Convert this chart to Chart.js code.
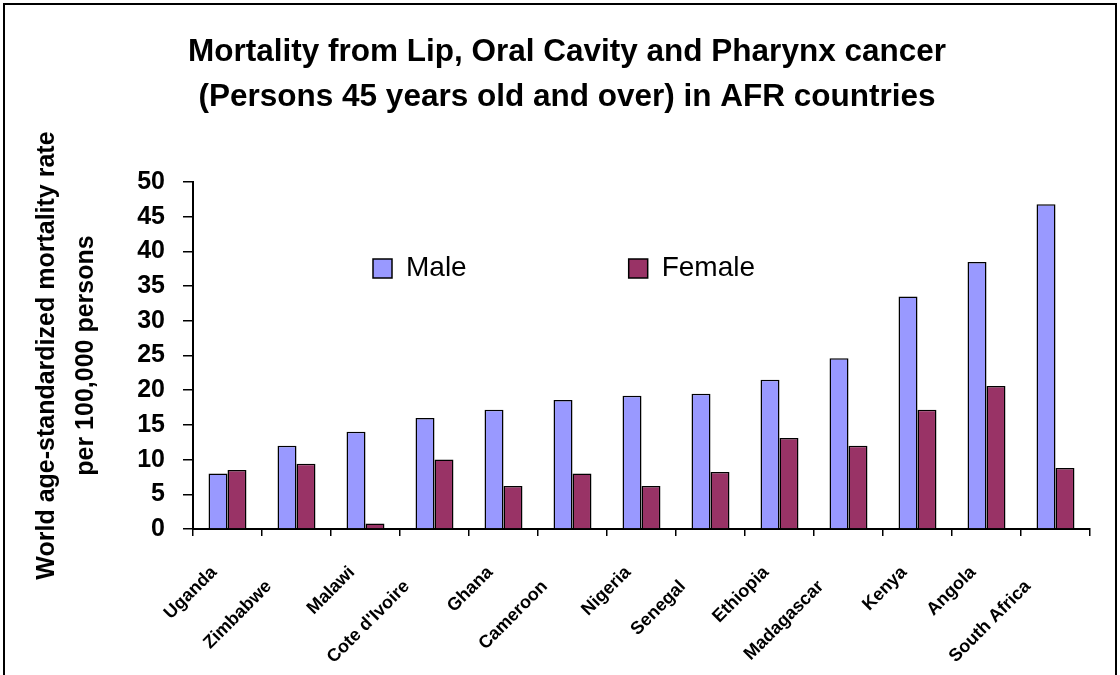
<!DOCTYPE html>
<html>
<head>
<meta charset="utf-8">
<script src="https://cdn.jsdelivr.net/npm/chart.js@4.4.1/dist/chart.umd.min.js"></script>
<style>
  html, body { margin: 0; padding: 0; background: #fff; }
  #wrap { position: relative; width: 1120px; height: 675px; overflow: hidden; }
  #frame { position: absolute; left: 3px; top: 3px; width: 1114px; height: 700px; border: 2px solid #000; box-sizing: border-box; pointer-events: none; }
  canvas { position: absolute; left: 0; top: 0; }
</style>
</head>
<body>
<div id="wrap">
  <canvas id="c" width="1120" height="675"></canvas>
  <div id="frame"></div>
</div>
<script>
const categories = ['Uganda', 'Zimbabwe', 'Malawi', "Cote d'Ivoire", 'Ghana', 'Cameroon', 'Nigeria', 'Senegal', 'Ethiopia', 'Madagascar', 'Kenya', 'Angola', 'South Africa'];
const maleValues = [8.0, 12.0, 14.0, 16.0, 17.2, 18.6, 19.2, 19.5, 21.5, 24.6, 33.5, 38.5, 46.8];
const femaleValues = [8.5, 9.4, 0.8, 10.0, 6.2, 8.0, 6.2, 8.2, 13.1, 12.0, 17.2, 20.6, 8.8];
const seriesNames = ['Male', 'Female'];
const titleLines = ['Mortality from Lip, Oral Cavity and Pharynx cancer', '(Persons 45 years old and over) in AFR countries'];
const yTitleLines = ['World age-standardized mortality rate', 'per 100,000 persons'];
const yMin = 0, yMax = 50, yStep = 5;

// labels that Excel pushed down a row to avoid overlap
const loweredLabelIdx = [1, 3, 5, 7, 9, 12];

Chart.defaults.color = '#000';
Chart.defaults.font.family = '"Liberation Sans", Arial, sans-serif';

const legendMover = {
  id: 'legendMover',
  beforeDraw(chart) {
    const lg = chart.legend;
    if (!lg) return;
    const pad = lg.options.labels.padding;
    const ca = chart.chartArea;
    lg.left = ca.left + 180 - pad;
    lg.top = ca.top + 72.5 - pad;
    lg.width = 1000;
    lg.height = 2 * pad + 60;
    lg.right = lg.left + lg.width;
    lg.bottom = lg.top + lg.height;
  }
};

new Chart(document.getElementById('c'), {
  type: 'bar',
  data: {
    labels: categories,
    datasets: [
      { label: seriesNames[0], data: maleValues, backgroundColor: '#9999FF', borderColor: '#000', borderWidth: 1.5 },
      { label: seriesNames[1], data: femaleValues, backgroundColor: '#993366', borderColor: '#000', borderWidth: 1.5 }
    ]
  },
  options: {
    responsive: false,
    animation: false,
    devicePixelRatio: 1,
    layout: { padding: { left: 44, right: 30, top: 0, bottom: 7 } },
    datasets: { bar: { categoryPercentage: 0.55, barPercentage: 1.0 } },
    plugins: {
      title: {
        display: true,
        text: titleLines,
        color: '#000',
        font: { size: 31.5, weight: 'bold', lineHeight: 1.43 },
        padding: { top: 29.5, bottom: 61.5 }
      },
      legend: {
        display: true,
        position: 'top',
        align: 'start',
        maxHeight: 1,
        labels: {
          color: '#000',
          boxWidth: 19,
          boxHeight: 19,
          padding: 162,
          font: { size: 28, weight: 'normal' }
        }
      },
      tooltip: { enabled: false }
    },
    scales: {
      x: {
        offset: true,
        afterFit: (s) => { s.height = 139; },
        grid: { display: true, drawOnChartArea: false, offset: true, tickLength: 7, color: '#000', lineWidth: 1.5 },
        border: { display: true, color: '#000', width: 2 },
        ticks: {
          autoSkip: false,
          maxRotation: 45,
          minRotation: 45,
          padding: 26,
          labelOffset: -13.5,
          color: '#000',
          font: { size: 18, weight: 'bold' },
          callback: (v, i) => categories[i] + (loweredLabelIdx.includes(i) ? '    ' : '')
        }
      },
      y: {
        min: yMin,
        max: yMax,
        afterFit: (s) => { s.width = 149; },
        grid: { display: true, drawOnChartArea: false, tickLength: 10, color: '#000', lineWidth: 1.5 },
        border: { display: true, color: '#000', width: 2 },
        ticks: {
          stepSize: yStep,
          autoSkip: false,
          padding: 18,
          color: '#000',
          font: { size: 25, weight: 'bold' }
        },
        title: {
          display: true,
          text: yTitleLines,
          color: '#000',
          font: { size: 25, weight: 'bold', lineHeight: 1.55 },
          padding: { top: -16.4, bottom: 0 }
        }
      }
    }
  },
  plugins: [legendMover]
});
</script>
</body>
</html>
